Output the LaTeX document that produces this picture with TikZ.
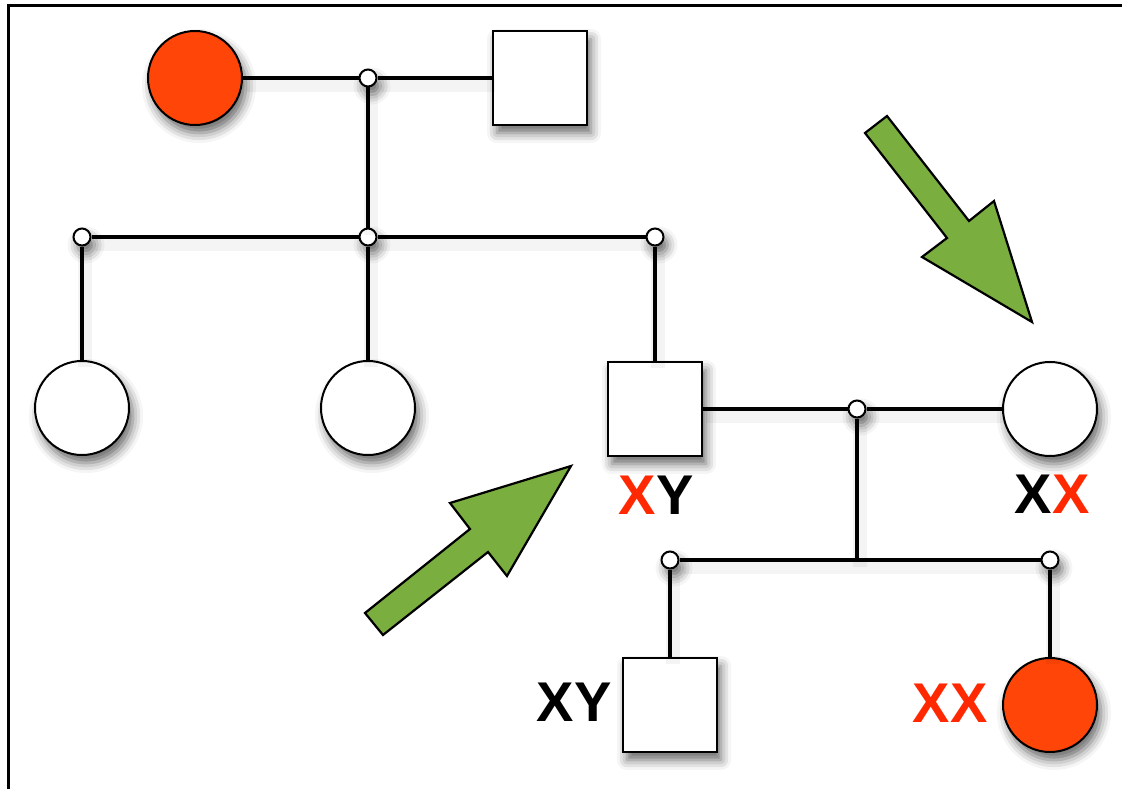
\documentclass[tikz,border=0pt]{standalone}
\usepackage{fontspec}
\setmainfont{Liberation Sans}
\usetikzlibrary{positioning, shapes.geometric, shadows.blur}
\definecolor{affred}{RGB}{255,69,8}
\definecolor{txtred}{RGB}{255,40,0}
\definecolor{arrowgreen}{RGB}{122,174,62}
\tikzstyle{shade} = [blur shadow={shadow xshift=4pt, shadow yshift=-8pt, shadow blur radius=10pt, shadow opacity=60}]
\tikzstyle{female} = [circle, minimum size=94pt, inner sep=0pt, draw=black, line width=2pt, fill=white, shade]
\tikzstyle{male} = [rectangle, minimum size=94pt, inner sep=0pt, draw=black, line width=2pt, fill=white, shade]
\tikzstyle{junction} = [circle, minimum size=17pt, inner sep=0pt, draw=black, line width=2pt, fill=white, shade]
\tikzstyle{link} = [line width=3.4pt, preaction={draw=black, opacity=0.045, line width=14pt, transform canvas={shift={(3pt,-7pt)}}}]
\tikzstyle{geno} = [inner sep=0pt, font=\fontsize{56}{60}\selectfont\bfseries]
\tikzstyle{pointer} = [draw=black, line width=2.2pt, line join=miter, fill=arrowgreen]

\begin{document}
\begin{tikzpicture}[x=1pt, y=-1pt]
		\useasboundingbox (0,0) rectangle (1122,789);
		\draw [line width=3pt] (8.5,789) -- (8.5,5.5) -- (1122,5.5);
		
		%第一代
		\node (f1) [female, fill=affred] at (195,78) {};
		\node (m1) [male] at (540,78) {};
		\node (j1) [junction] at (368,78) {};
		
		%第二代
		\node (j2) [junction] at (368,237) {};
		\node (j3) [junction] at (82,237) {};
		\node (j4) [junction] at (655,237) {};
		\node (d1) [female] at (82,408) {};
		\node (d2) [female] at (368,408) {};
		\node (s1) [male] at (655,409) {};
		\node (w1) [female] at (1050,409) {};
		\node (j5) [junction] at (857,409) {};
		
		%第三代
		\coordinate (t1) at (857,560);
		\node (j7) [junction] at (670,560) {};
		\node (j8) [junction] at (1050,560) {};
		\node (s2) [male] at (670,705) {};
		\node (d3) [female, fill=affred] at (1050,705) {};
		
		%基因型
		\node (g1) [geno] at (656,495) {\textcolor{txtred}{X}Y};
		\node (g2) [geno] at (1052,494) {X\textcolor{txtred}{X}};
		\node (g3) [geno] at (574,702) {XY};
		\node (g4) [geno, text=txtred] at (950,703) {XX};
		
		%连接具体形状
		\draw [link] (f1) -- (j1);
		\draw [link] (j1) -- (m1);
		\draw [link] (j1) -- (j2);
		\draw [link] (j3) -- (j2);
		\draw [link] (j2) -- (j4);
		\draw [link] (j3) -- (d1);
		\draw [link] (j2) -- (d2);
		\draw [link] (j4) -- (s1);
		\draw [link] (s1) -- (j5);
		\draw [link] (j5) -- (w1);
		\draw [link] (j5) -- (t1);
		\draw [link] (j7) -- (j8);
		\draw [link] (j7) -- (s2);
		\draw [link] (j8) -- (d3);
		
		%箭头
		\draw [pointer] (571,466) -- (450,503) -- (470,529) -- (365,613) -- (383,635) -- (488,552) -- (507,576) -- cycle;
		\draw [pointer] (865,133) -- (887,116) -- (969,221) -- (994,201) -- (1032,322) -- (922,257) -- (947,238) -- cycle;
	\end{tikzpicture}
\end{document}
